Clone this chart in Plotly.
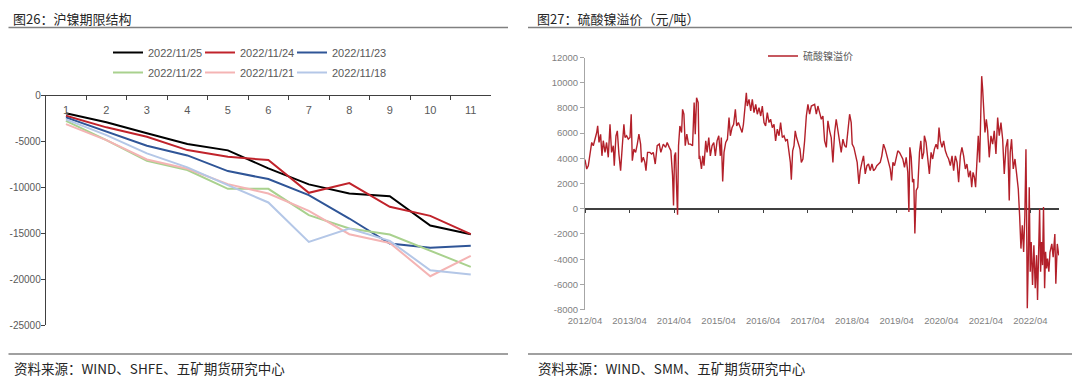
import plotly.graph_objects as go

# ---------------- Left chart data: 沪镍期限结构 ----------------
term_labels = ['1', '2', '3', '4', '5', '6', '7', '8', '9', '10', '11']
series_names = ['2022/11/25', '2022/11/24', '2022/11/23', '2022/11/22', '2022/11/21', '2022/11/18']
s_1125 = [-1920, -2900, -4100, -5270, -5960, -7930, -9670, -10660, -10950, -14150, -15100]
s_1124 = [-2180, -3450, -4480, -5930, -6650, -7020, -10590, -9530, -12110, -13100, -15100]
s_1123 = [-2360, -3930, -5460, -6510, -8220, -9090, -10840, -13390, -16120, -16590, -16370]
s_1122 = [-2750, -4840, -7100, -8100, -10150, -10150, -13020, -14480, -15130, -16920, -18670]
s_1121 = [-3100, -4840, -6950, -7970, -9640, -10660, -12550, -15100, -16050, -19680, -17470]
s_1118 = [-2580, -4290, -6290, -7820, -9750, -11640, -15940, -14480, -15830, -19030, -19500]
series_colors = ['#000000', '#C0232B', '#2F5597', '#A9D18E', '#F4B4B4', '#B4C7E7']
left_y_ticks = [0, -5000, -10000, -15000, -20000, -25000]
left_y_text = ['0', '-5000', '-10000', '-15000', '-20000', '-25000']

# ---------------- Right chart data: 硫酸镍溢价 ----------------
prem_dates = [
    '2012-04-01', '2012-04-15', '2012-04-28', '2012-05-12', '2012-05-26', '2012-06-08', '2012-06-22',
    '2012-07-06', '2012-07-14', '2012-07-25', '2012-08-07', '2012-08-18', '2012-08-29', '2012-09-12',
    '2012-09-25', '2012-10-09', '2012-10-23', '2012-11-05', '2012-11-19', '2012-11-27', '2012-12-11',
    '2012-12-22', '2013-01-04', '2013-01-18', '2013-02-01', '2013-02-14', '2013-02-23', '2013-03-08',
    '2013-03-22', '2013-04-05', '2013-04-15', '2013-04-24', '2013-05-07', '2013-05-21', '2013-06-04',
    '2013-06-17', '2013-07-01', '2013-07-09', '2013-07-23', '2013-08-05', '2013-08-14', '2013-08-27',
    '2013-09-15', '2013-09-29', '2013-10-13', '2013-10-29', '2013-11-14', '2013-12-01', '2013-12-14',
    '2014-01-03', '2014-01-22', '2014-02-04', '2014-02-21', '2014-03-06', '2014-03-20', '2014-03-28',
    '2014-04-05', '2014-04-14', '2014-04-22', '2014-04-30', '2014-05-08', '2014-05-19', '2014-06-02',
    '2014-06-10', '2014-06-21', '2014-07-02', '2014-07-15', '2014-07-29', '2014-08-14', '2014-08-31',
    '2014-09-13', '2014-09-22', '2014-10-03', '2014-10-16', '2014-10-24', '2014-10-29', '2014-11-12',
    '2014-11-23', '2014-12-03', '2014-12-17', '2014-12-28', '2015-01-11', '2015-01-24', '2015-02-07',
    '2015-02-21', '2015-03-06', '2015-03-20', '2015-04-03', '2015-04-16', '2015-04-24', '2015-05-05',
    '2015-05-16', '2015-05-30', '2015-06-13', '2015-06-26', '2015-07-07', '2015-07-21', '2015-08-03',
    '2015-08-17', '2015-08-28', '2015-09-11', '2015-09-24', '2015-10-11', '2015-10-22', '2015-11-02',
    '2015-11-15', '2015-11-23', '2015-12-07', '2015-12-21', '2016-01-03', '2016-01-17', '2016-01-31',
    '2016-02-13', '2016-02-27', '2016-03-12', '2016-03-25', '2016-04-08', '2016-04-21', '2016-05-05',
    '2016-05-19', '2016-06-01', '2016-06-15', '2016-06-29', '2016-07-12', '2016-07-26', '2016-08-09',
    '2016-08-22', '2016-09-05', '2016-09-19', '2016-10-02', '2016-10-16', '2016-10-30', '2016-11-10',
    '2016-11-18', '2016-11-29', '2016-12-10', '2016-12-20', '2016-12-31', '2017-01-14', '2017-01-28',
    '2017-02-08', '2017-02-21', '2017-03-07', '2017-03-21', '2017-04-03', '2017-04-17', '2017-05-01',
    '2017-05-20', '2017-05-28', '2017-06-11', '2017-06-24', '2017-07-08', '2017-07-22', '2017-08-04',
    '2017-08-18', '2017-09-01', '2017-09-14', '2017-09-28', '2017-10-11', '2017-10-25', '2017-11-08',
    '2017-11-21', '2017-12-05', '2017-12-19', '2018-01-01', '2018-01-15', '2018-01-29', '2018-02-11',
    '2018-02-25', '2018-03-11', '2018-03-24', '2018-04-01', '2018-04-15', '2018-04-29', '2018-05-12',
    '2018-05-26', '2018-06-06', '2018-06-20', '2018-07-03', '2018-07-17', '2018-07-31', '2018-08-13',
    '2018-08-27', '2018-09-10', '2018-09-23', '2018-10-07', '2018-10-20', '2018-11-03', '2018-11-17',
    '2018-11-30', '2018-12-14', '2018-12-28', '2019-01-10', '2019-01-24', '2019-02-07', '2019-02-18',
    '2019-03-01', '2019-03-14', '2019-03-28', '2019-04-10', '2019-04-24', '2019-05-08', '2019-05-21',
    '2019-06-04', '2019-06-18', '2019-07-01', '2019-07-10', '2019-07-18', '2019-07-29', '2019-08-09',
    '2019-08-19', '2019-08-28', '2019-09-08', '2019-09-21', '2019-10-05', '2019-10-16', '2019-10-27',
    '2019-11-09', '2019-11-14', '2019-11-28', '2019-12-11', '2019-12-25', '2020-01-08', '2020-01-21',
    '2020-02-04', '2020-02-18', '2020-03-02', '2020-03-13', '2020-03-24', '2020-04-07', '2020-04-20',
    '2020-05-04', '2020-05-18', '2020-05-31', '2020-06-14', '2020-06-28', '2020-07-11', '2020-07-25',
    '2020-08-08', '2020-08-21', '2020-09-04', '2020-09-17', '2020-10-01', '2020-10-15', '2020-10-28',
    '2020-11-11', '2020-11-25', '2020-12-06', '2020-12-17', '2020-12-28', '2021-01-07', '2021-01-18',
    '2021-01-29', '2021-02-09', '2021-02-20', '2021-02-26', '2021-03-06', '2021-03-14', '2021-03-25',
    '2021-04-05', '2021-04-16', '2021-04-29', '2021-05-13', '2021-05-27', '2021-06-09', '2021-06-23',
    '2021-07-07', '2021-07-20', '2021-08-03', '2021-08-17', '2021-08-30', '2021-09-13', '2021-09-27',
    '2021-10-10', '2021-10-18', '2021-10-29', '2021-11-12', '2021-11-26', '2021-12-09', '2021-12-23',
    '2022-01-03', '2022-01-14', '2022-01-25', '2022-02-05', '2022-02-15', '2022-02-24', '2022-03-01',
    '2022-03-07', '2022-03-15', '2022-03-23', '2022-03-31', '2022-04-08', '2022-04-19', '2022-04-30',
    '2022-05-11', '2022-05-22', '2022-05-30', '2022-06-07', '2022-06-16', '2022-06-24', '2022-07-02',
    '2022-07-10', '2022-07-18', '2022-07-27', '2022-08-04', '2022-08-12', '2022-08-20', '2022-08-31',
    '2022-09-09', '2022-09-24', '2022-10-05', '2022-10-19', '2022-10-27', '2022-11-08', '2022-11-20',
]
prem_values = [
    3900, 3150, 3400, 4470, 5260, 5000, 5520,
    6050, 6575, 5260, 5900, 4200, 5400, 4470,
    5260, 4080, 6700, 4470, 5000, 3420, 5790,
    6180, 4340, 3020, 5000, 6700, 5650, 5790,
    5520, 5650, 7500, 3810, 4730, 4470, 5130,
    5920, 5130, 3680, 4080, 3680, 3020, 4470,
    4470, 4340, 4470, 3550, 5000, 5130, 4470,
    5130, 4870, 5260, 4870, 4600, 2630, 260,
    4200, 4470, 1710, -470, 5000, 6570, 6050,
    7890, 7500, 5000, 5920, 5130, 5130, 5000,
    8420, 5920, 8810, 8420, 3950, 4200, 3160,
    4200, 3420, 5390, 4470, 5650, 4200, 5000,
    5260, 4200, 5390, 5790, 4200, 5650, 2160,
    4470, 5260, 5520, 7230, 5790, 6440, 6700,
    7890, 6570, 6840, 6440, 6050, 6700, 7630,
    9200, 8150, 8680, 7760, 8680, 7630, 8280,
    7500, 8020, 7360, 8150, 6840, 6570, 7630,
    6840, 7100, 6440, 6700, 5390, 6310, 5790,
    6840, 5650, 5790, 5390, 5520, 4200, 3680,
    2310, 4600, 5000, 6180, 5650, 5130, 4730,
    3680, 3950, 5390, 7360, 8280, 7500, 8150,
    8280, 8280, 7500, 8150, 7630, 7100, 7360,
    5390, 4870, 6970, 6180, 5650, 3680, 6050,
    7100, 6180, 5260, 4470, 5520, 5000, 4870,
    6050, 7500, 6840, 5130, 4870, 4080, 3680,
    1970, 3020, 3680, 4200, 2760, 3420, 3550,
    3020, 3550, 3020, 3160, 3420, 3550, 3680,
    4200, 5130, 4730, 4200, 3680, 3160, 2240,
    3680, 3420, 4200, 4600, 4470, 4200, 3950,
    3290, 4080, 2890, -260, 4870, 4080, 2100,
    2370, -1970, 1450, 1710, 4470, 5390, 3950,
    4470, 5790, 5260, 4200, 2760, 4470, 3950,
    4730, 5130, 4730, 6440, 5390, 4870, 5390,
    4600, 4200, 3950, 3420, 4200, 3020, 4200,
    3680, 2100, 4200, 4870, 4200, 3160, 3550,
    2500, 3020, 1710, 2890, 2500, 1710, 4200,
    5790, 3680, 9340, 10520, 9470, 8150, 6050,
    7100, 6180, 4080, 5790, 5130, 6180, 4340,
    7230, 5790, 6840, 5520, 2760, 4870, 5520,
    660, 4470, 5520, 3160, 3950, 3020, 1580,
    -530, -3160, -1310, -3420, -530, 4730, 0,
    -7890, -4200, 1710, -5000, -2630, -6050, -2890,
    -6310, -3680, -7230, -3160, 0, -5000, -2630,
    -4470, 130, -6310, -3420, -4730, -3950, -5000,
    -3450, -2790, -3840, -2000, -5950, -2790, -3700,
]
prem_name = '硫酸镍溢价'
right_y_ticks = [12000, 10000, 8000, 6000, 4000, 2000, 0, -2000, -4000, -6000, -8000]
right_y_text = ['12000', '10000', '8000', '6000', '4000', '2000', '0', '-2000', '-4000', '-6000', '-8000']
right_x_start = '2012-04-01'
right_x_end = '2022-11-22'

title_left = '图26：沪镍期限结构'
title_right = '图27：硫酸镍溢价（元/吨）'
source_left = '资料来源：WIND、SHFE、五矿期货研究中心'
source_right = '资料来源：WIND、SMM、五矿期货研究中心'

# ---------------- layout geometry (page pixels, page has an 8px body margin) ----------------
W, H = 1080, 387
OFF = 8
def fx(p):
    return (p - OFF) / W
def fy(p):
    return 1 - (p - OFF) / H

CJK = 'Noto Sans CJK SC, Microsoft YaHei, sans-serif'
LAT = 'Liberation Sans, Arial, sans-serif'
TICKGRAY = '#595959'

fig = go.Figure()

# legend anchor positions for the six left-chart entries (page px)
leg_pos = [(108, 52.5), (200, 52.5), (292, 52.5), (108, 72.5), (200, 72.5), (292, 72.5)]
left_series = [s_1125, s_1124, s_1123, s_1122, s_1121, s_1118]
legend_layout = {}
for i, (name, vals, col) in enumerate(zip(series_names, left_series, series_colors)):
    lid = 'legend' if i == 0 else 'legend%d' % (i + 1)
    fig.add_trace(go.Scatter(
        x=term_labels, y=vals, name=name, mode='lines',
        line=dict(color=col, width=2),
        xaxis='x', yaxis='y', legend=lid, hoverinfo='skip',
    ))
    lx, ly = leg_pos[i]
    legend_layout[lid] = dict(
        orientation='h', x=fx(lx), y=fy(ly), xanchor='left', yanchor='middle',
        bgcolor='rgba(0,0,0,0)', font=dict(size=11, color=TICKGRAY, family=LAT),
        itemwidth=30,
    )

fig.add_trace(go.Scatter(
    x=prem_dates, y=prem_values, name=prem_name, mode='lines',
    line=dict(color='#B3202A', width=1.4),
    xaxis='x2', yaxis='y2', legend='legend7', hoverinfo='skip',
))
legend_layout['legend7'] = dict(
    orientation='h', x=fx(763), y=fy(56), xanchor='left', yanchor='middle',
    bgcolor='rgba(0,0,0,0)', font=dict(size=10, color=TICKGRAY, family=CJK),
    itemwidth=30,
)
# helper axis for tick marks along the zero line
fig.add_trace(go.Scatter(
    x=[right_x_start, right_x_end], y=[0, 0], mode='lines',
    line=dict(width=0, color='rgba(0,0,0,0)'), xaxis='x3', yaxis='y2',
    showlegend=False, hoverinfo='skip',
))

ly0, ly1 = fy(325), fy(95.7)
ry0, ry1 = fy(309.6), fy(57.5)
rmin, rmax = -8000, 12000
zero_pos = ry0 + (0 - rmin) / (rmax - rmin) * (ry1 - ry0)

fig.update_layout(
    width=W, height=H,
    margin=dict(l=0, r=0, t=0, b=0, autoexpand=False),
    paper_bgcolor='white', plot_bgcolor='rgba(0,0,0,0)',
    font=dict(family=CJK, color='#333333'),
    xaxis=dict(
        domain=[fx(45.7), fx(491)], anchor='y', side='top', type='category',
        range=[-0.5, 10.5], tickson='boundaries', ticks='inside', ticklen=4,
        tickcolor='#404040', ticklabelstandoff=-24, automargin=False,
        showline=True, linecolor='#404040', linewidth=1,
        showgrid=False, zeroline=False,
        tickfont=dict(size=11, color=TICKGRAY, family=LAT),
    ),
    yaxis=dict(
        domain=[ly0, ly1], anchor='x', range=[-25000, 0],
        tickvals=left_y_ticks, ticktext=left_y_text, automargin=False,
        ticks='outside', ticklen=4, tickcolor='#404040', ticklabelstandoff=-2,
        showline=True, linecolor='#404040', linewidth=1,
        showgrid=False, zeroline=False,
        tickfont=dict(size=10, color=TICKGRAY, family=LAT),
    ),
    xaxis2=dict(
        domain=[fx(585), fx(1059)], anchor='y2', type='date',
        range=[right_x_start, right_x_end], automargin=False,
        tick0=right_x_start, dtick='M12', tickformat='%Y/%m',
        ticks='', showline=False, showgrid=False, zeroline=False,
        ticklabelstandoff=4,
        tickfont=dict(size=9.5, color='#7f7f7f', family=LAT),
    ),
    xaxis3=dict(
        domain=[fx(585), fx(1059)], anchor='free', position=zero_pos,
        overlaying='x2', type='date', range=[right_x_start, right_x_end],
        tick0=right_x_start, dtick='M12', ticks='outside', ticklen=3,
        tickcolor='#404040', showticklabels=False, showline=False,
        showgrid=False, zeroline=False, automargin=False,
    ),
    yaxis2=dict(
        domain=[ry0, ry1], anchor='x2', range=[rmin, rmax],
        tickvals=right_y_ticks, ticktext=right_y_text, automargin=False,
        ticks='outside', ticklen=4, tickcolor='#a6a6a6',
        showline=True, linecolor='#a6a6a6', linewidth=1,
        showgrid=False, zeroline=True, zerolinecolor='#404040', zerolinewidth=1.5,
        tickfont=dict(size=9.5, color='#7f7f7f', family=LAT),
    ),
    showlegend=True,
    **legend_layout,
)

# titles (top-anchored so they stay fully inside the figure) and sources
for txt, x in [(title_left, 12), (title_right, 536)]:
    fig.add_annotation(text=txt, xref='paper', yref='paper', x=fx(x), y=fy(8.3),
                       xanchor='left', yanchor='top', showarrow=False, borderpad=0,
                       font=dict(size=13, color='#262626', family=CJK))
for txt, x in [(source_left, 12), (source_right, 536)]:
    fig.add_annotation(text=txt, xref='paper', yref='paper', x=fx(x), y=fy(368),
                       xanchor='left', yanchor='middle', showarrow=False,
                       font=dict(size=13.5, color='#262626', family=CJK))

# separator lines
for x0, x1, y in [(8.5, 508, 27.5), (528, 1078, 27.5), (8.5, 508, 354), (528, 1078, 354)]:
    fig.add_shape(type='line', xref='paper', yref='paper', x0=fx(x0), x1=fx(x1),
                  y0=fy(y), y1=fy(y), line=dict(color='#808080', width=1.3))

fig.write_html('out.html')
